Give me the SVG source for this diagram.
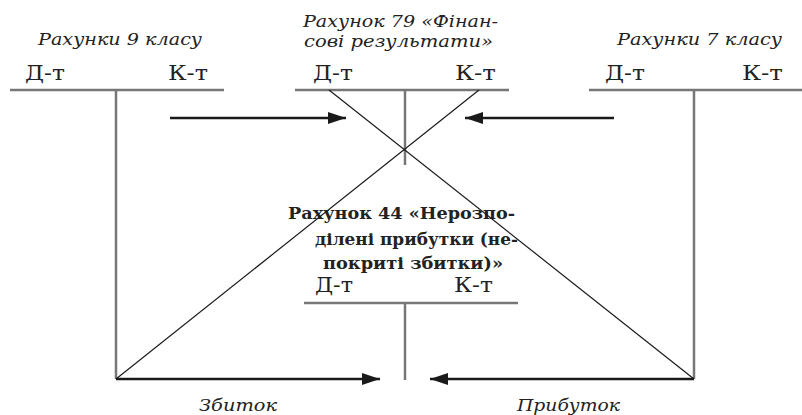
<svg xmlns="http://www.w3.org/2000/svg" width="802" height="415" viewBox="0 0 802 415">
<defs>
<marker id="ah" markerWidth="18" markerHeight="12" refX="18" refY="6" orient="auto" markerUnits="userSpaceOnUse">
<path d="M0,0 L18,6 L0,12 Z" fill="#1a1a1a"/>
</marker>
<style>
.t{stroke:#777;stroke-width:2.5;fill:none}
.x{stroke:#1a1a1a;stroke-width:1.2;fill:none}
.a{stroke:#1a1a1a;stroke-width:2.5;fill:none;marker-end:url(#ah)}
.lbl{font-family:"DejaVu Serif","Liberation Serif",serif;font-size:20px;fill:#222}
.it{font-family:"DejaVu Serif","Liberation Serif",serif;font-style:italic;font-size:16.5px;fill:#222}
.bd{font-family:"DejaVu Serif","Liberation Serif",serif;font-weight:bold;font-size:17.5px;fill:#222}
</style>
</defs>
<rect width="802" height="415" fill="#fff"/>
<g id="account9">
<line class="t" x1="10" y1="90" x2="224" y2="90"/>
<line class="t" x1="116" y1="90" x2="116" y2="379"/>
<text class="it" x="38" y="45" textLength="164" lengthAdjust="spacingAndGlyphs">Рахунки 9 класу</text>
<text class="lbl" x="25" y="80" textLength="40" lengthAdjust="spacingAndGlyphs">Д-т</text>
<text class="lbl" x="168" y="80" textLength="40" lengthAdjust="spacingAndGlyphs">К-т</text>
</g>
<g id="account79">
<line class="t" x1="295" y1="90" x2="509" y2="90"/>
<line class="t" x1="405" y1="90" x2="405" y2="165"/>
<text class="it" x="303" y="27" textLength="195" lengthAdjust="spacingAndGlyphs">Рахунок 79 «Фінан-</text>
<text class="it" x="304" y="47" textLength="189" lengthAdjust="spacingAndGlyphs">сові результати»</text>
<text class="lbl" x="313" y="80" textLength="40" lengthAdjust="spacingAndGlyphs">Д-т</text>
<text class="lbl" x="455" y="80" textLength="41" lengthAdjust="spacingAndGlyphs">К-т</text>
</g>
<g id="account7">
<line class="t" x1="589" y1="90" x2="802" y2="90"/>
<line class="t" x1="694" y1="90" x2="694" y2="379"/>
<text class="it" x="617" y="45" textLength="165" lengthAdjust="spacingAndGlyphs">Рахунки 7 класу</text>
<text class="lbl" x="605" y="80" textLength="40" lengthAdjust="spacingAndGlyphs">Д-т</text>
<text class="lbl" x="742" y="80" textLength="41" lengthAdjust="spacingAndGlyphs">К-т</text>
</g>
<g id="account44">
<line class="t" x1="304" y1="303" x2="518" y2="303"/>
<line class="t" x1="405" y1="303" x2="405" y2="380"/>
<text class="bd" x="288" y="219" textLength="227" lengthAdjust="spacingAndGlyphs">Рахунок 44 «Нерозпо-</text>
<text class="bd" x="315" y="245" textLength="203" lengthAdjust="spacingAndGlyphs">ділені прибутки (не-</text>
<text class="bd" x="323" y="269" textLength="180" lengthAdjust="spacingAndGlyphs">покриті збитки)»</text>
<text class="lbl" x="315" y="292" textLength="38" lengthAdjust="spacingAndGlyphs">Д-т</text>
<text class="lbl" x="454" y="292" textLength="39" lengthAdjust="spacingAndGlyphs">К-т</text>
</g>
<g id="connectors">
<line class="x" x1="329" y1="90" x2="694" y2="379"/>
<line class="x" x1="479" y1="90" x2="116" y2="379"/>
<line class="a" x1="170" y1="118" x2="346" y2="118"/>
<line class="a" x1="614" y1="118" x2="465" y2="118"/>
<line class="a" x1="116" y1="379" x2="380" y2="379"/>
<line class="a" x1="694" y1="379" x2="430" y2="379"/>
</g>
<g id="labels">
<text class="it" x="199" y="411" textLength="78" lengthAdjust="spacingAndGlyphs">Збиток</text>
<text class="it" x="517" y="411" textLength="103" lengthAdjust="spacingAndGlyphs">Прибуток</text>
</g>
</svg>
